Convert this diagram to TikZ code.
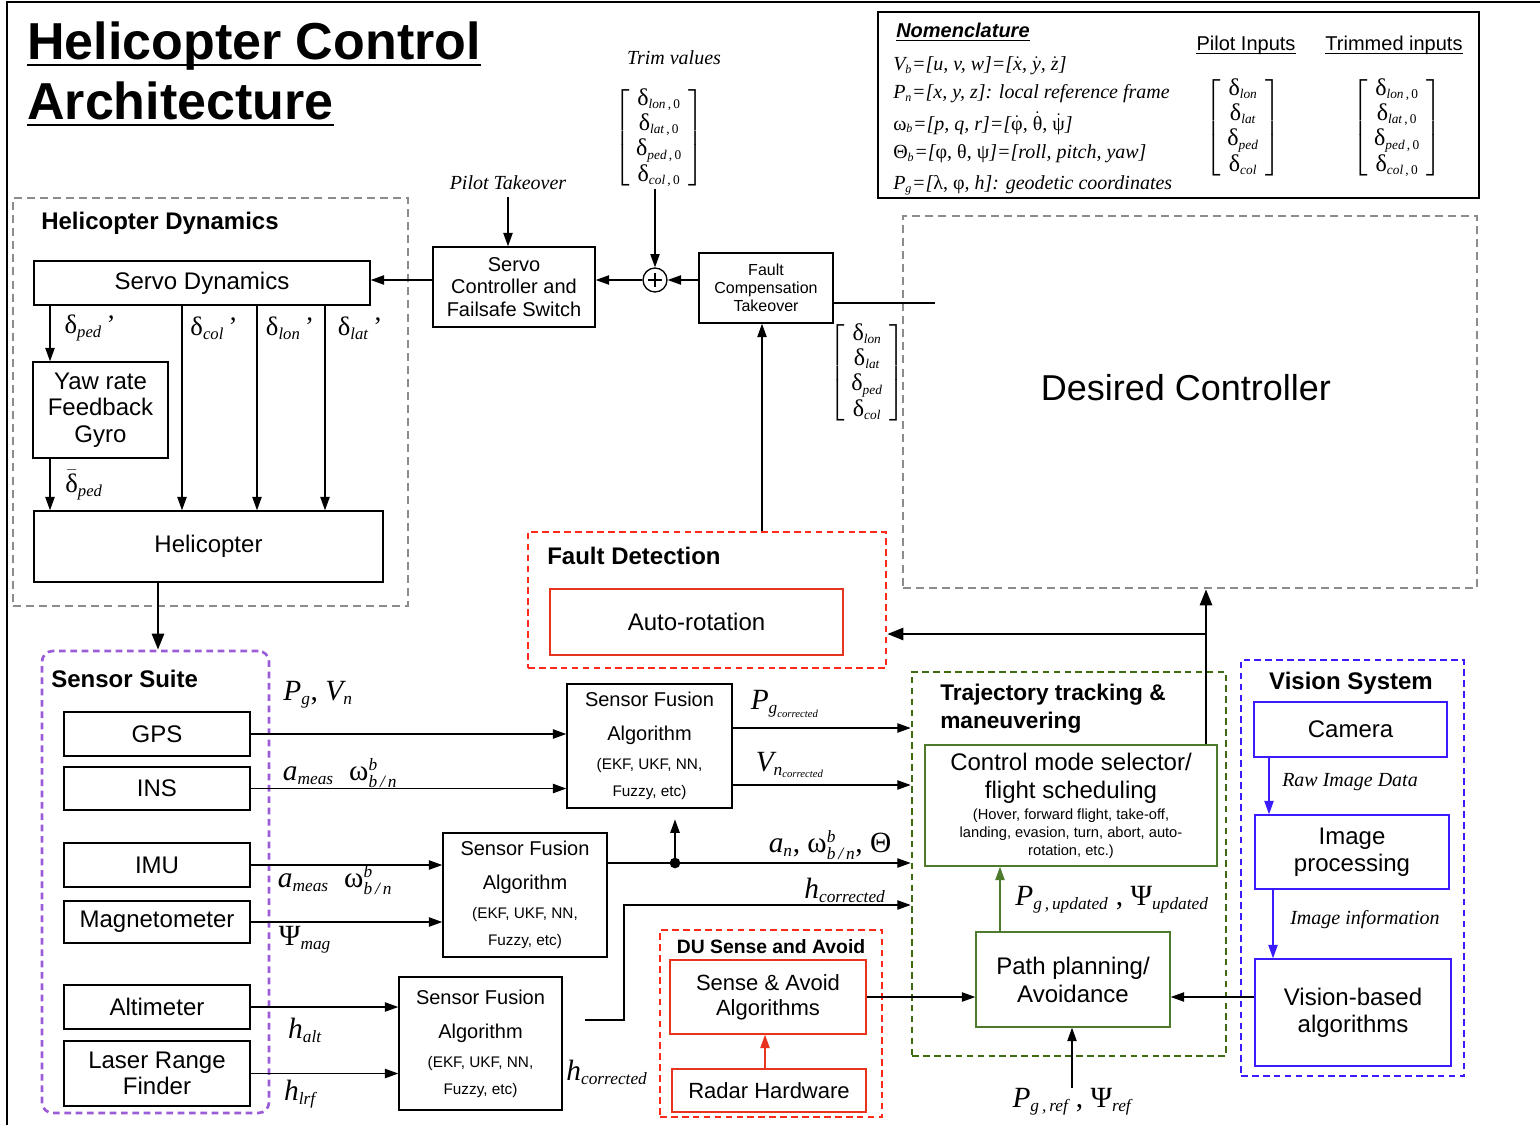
\documentclass[tikz,border=0pt]{standalone}
\usepackage{fontspec}
\usepackage{amsmath}
\setmainfont{Liberation Sans}
\newfontfamily\tms{Liberation Serif}
\usetikzlibrary{arrows.meta}

% math sizes for the label fonts (text, script, scriptscript)
\DeclareMathSizes{22}{22}{13}{8}
\DeclareMathSizes{20}{20}{12.5}{8}
\DeclareMathSizes{18}{18}{10}{7}
\DeclareMathSizes{15}{15}{9}{7}

% serif italic / upright pieces inside formulas
\newcommand\ti[1]{\text{\tms\itshape #1}}
\newcommand\tu[1]{\text{\tms\upshape #1}}
\newcommand\dsub[1]{\tu{δ}_{\ti{#1}}}
\newcommand\dsubz[1]{\tu{δ}_{\ti{#1}\tu{\,,\,0}}}
\newcommand\bvec[4]{$\left[\begin{array}{c}#1\\#2\\#3\\#4\end{array}\right]$}

\definecolor{dgray}{HTML}{8C8C8C}
\definecolor{dred}{HTML}{FF2A1A}
\definecolor{bred}{HTML}{E8341F}
\definecolor{dgreen}{HTML}{3F6A12}
\definecolor{bgreen}{HTML}{4E7A2E}
\definecolor{dblue}{HTML}{3A1CFF}
\definecolor{dpurple}{HTML}{9B5CD8}

\tikzset{
  wh/.style 2 args={minimum width=#1*0.75pt, minimum height=#2*0.75pt},
  box/.style={draw, line width=1.1pt, inner sep=0pt, align=center, font=\fontsize{18}{20}\selectfont},
  rbox/.style={box, draw=bred},
  gbox/.style={box, draw=bgreen},
  bbox/.style={box, draw=dblue},
  grp/.style={draw, inner sep=0pt},
  graydash/.style={grp, draw=dgray, line width=1.9pt, dash pattern=on 6pt off 3.8pt},
  reddash/.style={grp, draw=dred, line width=2pt, dash pattern=on 5pt off 3.2pt},
  greendash/.style={grp, draw=dgreen, line width=2pt, dash pattern=on 5pt off 3.2pt},
  bluedash/.style={grp, draw=dblue, line width=2pt, dash pattern=on 5pt off 3.2pt},
  purpdash/.style={grp, draw=dpurple, line width=2pt, dash pattern=on 5pt off 3.5pt, rounded corners=8pt},
  head/.style={inner sep=0pt, font=\bfseries\fontsize{18}{21}\selectfont},
  lbl/.style={inner sep=0pt, font=\fontsize{22}{24}\selectfont},
  dlbl/.style={inner sep=0pt, font=\fontsize{20}{22}\selectfont},
  note/.style={inner sep=0pt, font=\tms\itshape\fontsize{15}{18}\selectfont},
  nomf/.style={inner sep=0pt, anchor=west, font=\tms\itshape\fontsize{15}{17}\selectfont},
  mat/.style={inner sep=0pt, font=\fontsize{18}{19}\selectfont},
  conn/.style={line width=0.9pt},
  arr/.style={line width=0.9pt, -{Triangle[length=10pt,width=7pt]}},
  bigarr/.style={line width=2pt, -{Triangle[length=12pt,width=9pt]}},
}

\begin{document}
\begin{tikzpicture}[x=0.75pt, y=-0.75pt]
\useasboundingbox (0,0) rectangle (1540,1125);

% frame
\draw[line width=1pt] (7,1125) -- (7,2) -- (1540,2);

% title
\node[anchor=base west, inner sep=0pt, font=\bfseries\fontsize{39}{44}\selectfont] (title1) at (27,59) {Helicopter Control};
\draw[line width=2.2pt] ([yshift=-4.5pt]title1.base west) -- ([yshift=-4.5pt]title1.base east);
\node[anchor=base west, inner sep=0pt, font=\bfseries\fontsize{39}{44}\selectfont] (title2) at (27,119) {Architecture};
\draw[line width=2.2pt] ([yshift=-4.5pt]title2.base west) -- ([yshift=-4.5pt]title2.base east);

% nomenclature
\node[draw, line width=1.1pt, wh={601}{186}] (nombox) at (1178.5,105) {};
\node[anchor=base west, inner sep=0pt, font=\bfseries\itshape\fontsize{15}{18}\selectfont] (nomtitle) at (896,37) {Nomenclature};
\draw[line width=1pt] ([yshift=-2.5pt]nomtitle.base west) -- ([yshift=-2.5pt]nomtitle.base east);
\node[nomf] (nom1) at (893,66) {$\ti{V}_{\ti{b}}$=[u, v, w]=[$\dot{\ti{x}}$, $\dot{\ti{y}}$, $\dot{\ti{z}}$]};
\node[nomf] (nom2) at (893,94) {$\ti{P}_{\ti{n}}$=[x, y, z]: local reference frame};
\node[nomf] (nom3) at (893,123) {$\tu{ω}_{\ti{b}}$=[p, q, r]=[$\dot{\tu{φ}}$, $\dot{\tu{θ}}$, $\dot{\tu{ψ}}$]};
\node[nomf] (nom4) at (893,154) {$\tu{Θ}_{\ti{b}}$=[{\upshape φ, θ, ψ}]=[roll, pitch, yaw]};
\node[nomf] (nom5) at (893,185) {$\ti{P}_{\ti{g}}$=[{\upshape λ, φ}, h]: geodetic coordinates};
\node[anchor=base, inner sep=0pt, font=\fontsize{15}{18}\selectfont] (pilothead) at (1246,50) {Pilot Inputs};
\draw[line width=0.8pt] ([yshift=-2.5pt]pilothead.base west) -- ([yshift=-2.5pt]pilothead.base east);
\node[anchor=base, inner sep=0pt, font=\fontsize{15}{18}\selectfont] (trimhead) at (1394,50) {Trimmed inputs};
\draw[line width=0.8pt] ([yshift=-2.5pt]trimhead.base west) -- ([yshift=-2.5pt]trimhead.base east);
\node[mat] (pilotvec) at (1243,128) {\bvec{\dsub{lon}}{\dsub{lat}}{\dsub{ped}}{\dsub{col}}};
\node[mat] (trimvec) at (1397,128) {\bvec{\dsubz{lon}}{\dsubz{lat}}{\dsubz{ped}}{\dsubz{col}}};

% group frames
\node[graydash, wh={395}{408}] (dyn) at (210.5,402) {};
\node[graydash, wh={574}{372}] (desired) at (1190,402) {};
\node[purpdash, wh={227}{462}] (suite) at (155.5,882) {};
\node[reddash, wh={358}{136}] (fault) at (707,600) {};
\node[greendash, wh={314}{384}] (traj) at (1069,864) {};
\node[reddash, wh={222}{187}] (du) at (771,1023.5) {};
\node[bluedash, wh={223}{416}] (vision) at (1352.5,868) {};

\node[inner sep=0pt, font=\fontsize{27}{30}\selectfont] (desiredtxt) at (1186,388) {Desired Controller};
\node[head, anchor=west] (dynhead) at (41,223) {Helicopter Dynamics};
\node[head, anchor=west] (suitehead) at (51,679) {Sensor Suite};
\node[head, anchor=west] (faulthead) at (547,556) {Fault Detection};
\node[head, anchor=west, align=left, font=\bfseries\fontsize{17}{21}\selectfont] (trajhead) at (940,709) {Trajectory tracking \&\\maneuvering};
\node[head, font=\bfseries\fontsize{14.5}{17}\selectfont] (duhead) at (771,947) {DU Sense and Avoid};
\node[head] (vishead) at (1351,683) {Vision System};

% trim values, pilot takeover, summation
\node[note] (trimlbl) at (674,58) {Trim values};
\node[mat] (trimin) at (659,138) {\bvec{\dsubz{lon}}{\dsubz{lat}}{\dsubz{ped}}{\dsubz{col}}};
\node[note] (pilottk) at (508,183) {Pilot Takeover};
\node[circle, draw, line width=1pt, minimum size=18pt, inner sep=0pt] (sum) at (655,280) {};
\draw[line width=1.6pt] ([xshift=-5pt]sum.center) -- ([xshift=5pt]sum.center);
\draw[line width=1.6pt] ([yshift=-5pt]sum.center) -- ([yshift=5pt]sum.center);

% control path blocks
\node[box, wh={162}{80}, font=\fontsize{15}{17}\selectfont] (servoctl) at (514,287) {Servo\\Controller and\\Failsafe Switch};
\node[box, wh={134}{70}, font=\fontsize{12}{13.5}\selectfont] (fct) at (766,288) {Fault\\Compensation\\Takeover};
\node[mat] (pilotin) at (867,373) {\bvec{\dsub{lon}}{\dsub{lat}}{\dsub{ped}}{\dsub{col}}};

% helicopter dynamics
\node[box, wh={336}{44}] (sdyn) at (202,283) {Servo Dynamics};
\node[box, wh={135}{96}] (yaw) at (100.5,410) {Yaw rate\\Feedback\\Gyro};
\node[box, wh={349}{71}] (heli) at (208.5,546.5) {Helicopter};
\node[dlbl] (dped) at (90,328) {$\dsub{ped}\,\tu{’}$};
\node[dlbl] (dcol) at (214,328) {$\dsub{col}\,\tu{’}$};
\node[dlbl] (dlon) at (290,328) {$\dsub{lon}\,\tu{’}$};
\node[dlbl] (dlat) at (360,328) {$\dsub{lat}\,\tu{’}$};
\node[dlbl] (dpedbar) at (84,485) {$\bar{\tu{δ}}_{\ti{ped}}$};

% sensors
\node[box, wh={186}{44}] (gps) at (157,734) {GPS};
\node[box, wh={186}{43}] (ins) at (157,788.5) {INS};
\node[box, wh={186}{44}] (imu) at (157,865) {IMU};
\node[box, wh={186}{42}] (mag) at (157,922) {Magnetometer};
\node[box, wh={186}{44}] (alt) at (157,1007) {Altimeter};
\node[box, wh={186}{65}, font=\fontsize{18}{19.5}\selectfont] (lrf) at (157,1073.5) {Laser Range\\Finder};

% sensor fusion
\node[box, wh={165}{124}, font=\fontsize{15}{25.5}\selectfont] (sf1) at (649.5,746)
  {Sensor Fusion\\Algorithm\\[-3.75pt]\fontsize{11.5}{13}\selectfont(EKF, UKF, NN,\\[-5.25pt]\fontsize{11.5}{13}\selectfont Fuzzy, etc)};
\node[box, wh={164}{124}, font=\fontsize{15}{25.5}\selectfont] (sf2) at (525,895)
  {Sensor Fusion\\Algorithm\\[-3.75pt]\fontsize{11.5}{13}\selectfont(EKF, UKF, NN,\\[-5.25pt]\fontsize{11.5}{13}\selectfont Fuzzy, etc)};
\node[box, wh={163}{133}, font=\fontsize{15}{25.5}\selectfont] (sf3) at (480.5,1043.5)
  {Sensor Fusion\\Algorithm\\[-3.75pt]\fontsize{11.5}{13}\selectfont(EKF, UKF, NN,\\[-5.25pt]\fontsize{11.5}{13}\selectfont Fuzzy, etc)};

% fault detection, trajectory, sense and avoid, vision
\node[rbox, wh={293}{66}] (auto) at (696.5,622) {Auto-rotation};
\node[gbox, wh={292}{121}, font=\fontsize{18}{21}\selectfont] (ctrl) at (1071,805.5)
  {Control mode selector/\\flight scheduling\\[-5.25pt]\fontsize{11}{13}\selectfont(Hover, forward flight, take-off,\\[-7.5pt]\fontsize{11}{13}\selectfont landing, evasion, turn, abort, auto-\\[-7.5pt]\fontsize{11}{13}\selectfont rotation, etc.)};
\node[gbox, wh={194}{95}, font=\fontsize{18}{21}\selectfont] (path) at (1073,979.5) {Path planning/\\Avoidance};
\node[rbox, wh={196}{74}, font=\fontsize{16.5}{19}\selectfont] (sa) at (768,997) {Sense \& Avoid\\Algorithms};
\node[rbox, wh={194}{43}, font=\fontsize{16.5}{19}\selectfont] (radar) at (769,1090.5) {Radar Hardware};
\node[bbox, wh={193}{55}] (cam) at (1350.5,729.5) {Camera};
\node[bbox, wh={194}{74}] (imgp) at (1352,852) {Image\\processing};
\node[bbox, wh={196}{107}] (vba) at (1353,1012.5) {Vision-based\\algorithms};
\node[note] (rawlbl) at (1350,782) {Raw Image Data};
\node[note] (imglbl) at (1365,920) {Image information};

% signal labels
\node[lbl] (lpgvn) at (318,695) {$\ti{P}_{\ti{g}}\tu{, }\ti{V}_{\ti{n}}$};
\node[lbl] (lins) at (340,773) {$\ti{a}_{\ti{meas}}\;\;\tu{ω}^{\ti{b}}_{\ti{b\,/\,n}}$};
\node[lbl] (limu) at (335,880) {$\ti{a}_{\ti{meas}}\;\;\tu{ω}^{\ti{b}}_{\ti{b\,/\,n}}$};
\node[lbl] (lmag) at (305,940) {$\tu{Ψ}_{\ti{mag}}$};
\node[lbl] (lalt) at (305,1030) {$\ti{h}_{\ti{alt}}$};
\node[lbl] (llrf) at (300,1094) {$\ti{h}_{\ti{lrf}}$};
\node[lbl] (lpgc) at (785,704) {$\ti{P}_{\ti{g}_{\ti{corrected}}}$};
\node[lbl] (lvnc) at (790,765) {$\ti{V}_{\ti{n}_{\ti{corrected}}}$};
\node[lbl] (lanw) at (830,845) {$\ti{a}_{\ti{n}}\tu{, }\tu{ω}^{\ti{b}}_{\ti{b\,/\,n}}\tu{, }\tu{Θ}$};
\node[lbl] (lhc1) at (845,890) {$\ti{h}_{\ti{corrected}}$};
\node[lbl] (lhc2) at (607,1072) {$\ti{h}_{\ti{corrected}}$};
\node[lbl] (lupd) at (1112,900) {$\ti{P}_{\ti{g\,,\,updated}}\tu{ , }\tu{Ψ}_{\ti{updated}}$};
\node[lbl] (lref) at (1072,1102) {$\ti{P}_{\ti{g\,,\,ref}}\tu{ , }\tu{Ψ}_{\ti{ref}}$};

% helper coordinates
\coordinate (x50) at (50,0);
\coordinate (x158) at (158,0);
\coordinate (x182) at (182,0);
\coordinate (x257) at (257,0);
\coordinate (x325) at (325,0);
\coordinate (x762) at (762,0);
\coordinate (x765) at (765,0);
\coordinate (x1000) at (1000,0);
\coordinate (x1206) at (1206,0);
\coordinate (x1269) at (1269,0);
\coordinate (x1273) at (1273,0);
\coordinate (yPg) at (0,728);
\coordinate (yVn) at (0,785);
\coordinate (fctout) at (935,303);
\coordinate (hstart) at (585,1020);
\coordinate (hbend) at (624,905);
\coordinate (tap) at (1206,634);
\node[circle, fill, inner sep=0pt, minimum size=8pt] (dot) at (675,863) {};

% command path
\draw[arr] (sum |- trimin.south) -- (sum.north);
\draw[arr] ([yshift=-5pt]pilottk.south) -- (pilottk.south |- servoctl.north);
\draw[arr] (fct.west |- sum) -- (sum.east);
\draw[arr] (sum.west) -- (servoctl.east |- sum);
\draw[arr] (servoctl.west |- sum) -- (sdyn.east |- sum);
\draw[conn] (fct.east |- fctout) -- (fctout);

% helicopter dynamics
\draw[arr] (sdyn.south -| x50) -- (yaw.north -| x50);
\draw[arr] (yaw.south -| x50) -- (heli.north -| x50);
\draw[arr] (sdyn.south -| x182) -- (heli.north -| x182);
\draw[arr] (sdyn.south -| x257) -- (heli.north -| x257);
\draw[arr] (sdyn.south -| x325) -- (heli.north -| x325);
\draw[bigarr] (heli.south -| x158) -- (suite.north -| x158);

% sensors to fusion
\draw[arr] (gps.east) -- (sf1.west |- gps.east);
\draw[arr] (ins.east) -- (sf1.west |- ins.east);
\draw[arr] (imu.east) -- (sf2.west |- imu.east);
\draw[arr] (mag.east) -- (sf2.west |- mag.east);
\draw[arr] (alt.east) -- (sf3.west |- alt.east);
\draw[arr] (lrf.east) -- (sf3.west |- lrf.east);

% fusion to trajectory tracking
\draw[arr] (sf1.east |- yPg) -- (traj.west |- yPg);
\draw[arr] (sf1.east |- yVn) -- (traj.west |- yVn);
\draw[arr] (sf2.east |- dot) -- (traj.west |- dot);
\draw[arr, shorten >=8pt] (dot.center) -- (dot |- sf1.south);
\draw[arr] (hstart) -| (hbend) -- (traj.west |- hbend);

% fault detection and controller links
\draw[arr] (fault.north -| x762) -- (fct.south -| x762);
\draw[bigarr] (ctrl.north -| x1206) -- (desired.south -| x1206);
\draw[bigarr] (tap) -- (fault.east |- tap);

% planning links
\draw[arr, draw=bgreen] (path.north -| x1000) -- (ctrl.south -| x1000);
\draw[arr] (lref.north) -- (path.south -| lref.north);
\draw[arr] (sa.east) -- (path.west |- sa.east);
\draw[arr, draw=bred] (radar.north -| x765) -- (sa.south -| x765);
\draw[arr] (vba.west |- sa.east) -- (path.east |- sa.east);
\draw[arr, draw=dblue] (cam.south -| x1269) -- (imgp.north -| x1269);
\draw[arr, draw=dblue] (imgp.south -| x1273) -- (vba.north -| x1273);
\end{tikzpicture}
\end{document}
